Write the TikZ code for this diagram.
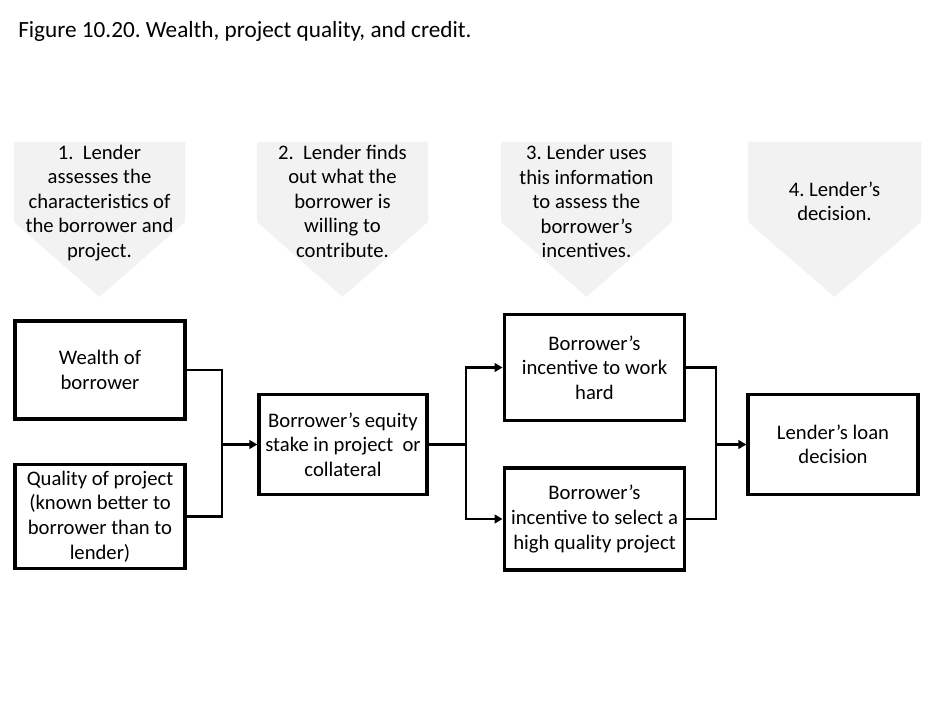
\documentclass[tikz,border=0pt]{standalone}
\usepackage{fontspec}
\setmainfont{Carlito}
\usetikzlibrary{arrows.meta}
\definecolor{chevgray}{HTML}{F2F2F2}
\frenchspacing
\begin{document}
\begin{tikzpicture}[x=0.75pt,y=-0.75pt,
  txt/.style={font=\fontsize{15.5}{18.4}\selectfont, align=center, inner sep=0pt},
  chev/.style={fill=chevgray, draw=none},
  box/.style={txt, draw=black, line width=2.4pt},
  link/.style={draw=black, line width=2.2pt},
  arr/.style={link, -{Triangle[length=6pt,width=6.5pt]}}
]
\useasboundingbox (0,0) rectangle (936,702);

% title
\node[font=\fontsize{17.4}{20}\selectfont, inner sep=0pt, anchor=base west] (title) at (18,38) {Figure 10.20. Wealth, project quality, and credit.};

% chevrons
\foreach \xa/\xb in {14/185, 257/428, 501/672, 748/921}{
  \fill[chev] (\xa,142) -- (\xb,142) -- (\xb,222) -- ({(\xa+\xb)/2},297) -- (\xa,222) -- cycle;
}
\node[txt] (s1) at (99.5,203) {1.\ \ Lender\\assesses the\\characteristics of\\the borrower and\\project.};
\node[txt] (s2) at (342.5,201) {2.\ \ Lender finds\\out what the\\borrower is\\willing to\\contribute.};
\node[txt] (s3) at (586.5,201.5) {3. Lender uses\\this information\\to assess the\\borrower’s\\incentives.};
\node[txt] (s4) at (834.5,201.5) {4. Lender’s\\decision.};

% boxes
\node[box, minimum width=127.5pt, minimum height=73.5pt] (wealth) at (100,370) {Wealth of\\borrower};
\node[box, minimum width=127.5pt, minimum height=78.5pt] (quality) at (100,516.5) {Quality of project\\(known better to\\borrower than to\\lender)};
\node[box, minimum width=126pt, minimum height=75.5pt] (equity) at (343,444.5) {Borrower’s equity\\stake in project\ \ or\\collateral};
\node[box, minimum width=135.5pt, minimum height=80pt] (work) at (594.5,367.5) {Borrower’s\\incentive to work\\hard};
\node[box, minimum width=135.5pt, minimum height=76.5pt] (select) at (594.5,519) {Borrower’s\\incentive to select a\\high quality project};
\node[box, minimum width=127.5pt, minimum height=75.5pt] (decision) at (833,444.5) {Lender’s loan\\decision};

% junctions
\coordinate (j1) at (222,444.5);
\coordinate (j2) at (466,444.5);
\coordinate (j3) at (716,444.5);

% connectors
\draw[link] (wealth.east) -| (j1);
\draw[link] (quality.east) -| (j1);
\draw[arr] (j1) -- (equity.west);
\draw[link] (equity.east) -- (j2);
\draw[arr] (j2) |- (work.west);
\draw[arr] (j2) |- (select.west);
\draw[link] (work.east) -| (j3);
\draw[link] (select.east) -| (j3);
\draw[arr] (j3) -- (decision.west);
\end{tikzpicture}
\end{document}
